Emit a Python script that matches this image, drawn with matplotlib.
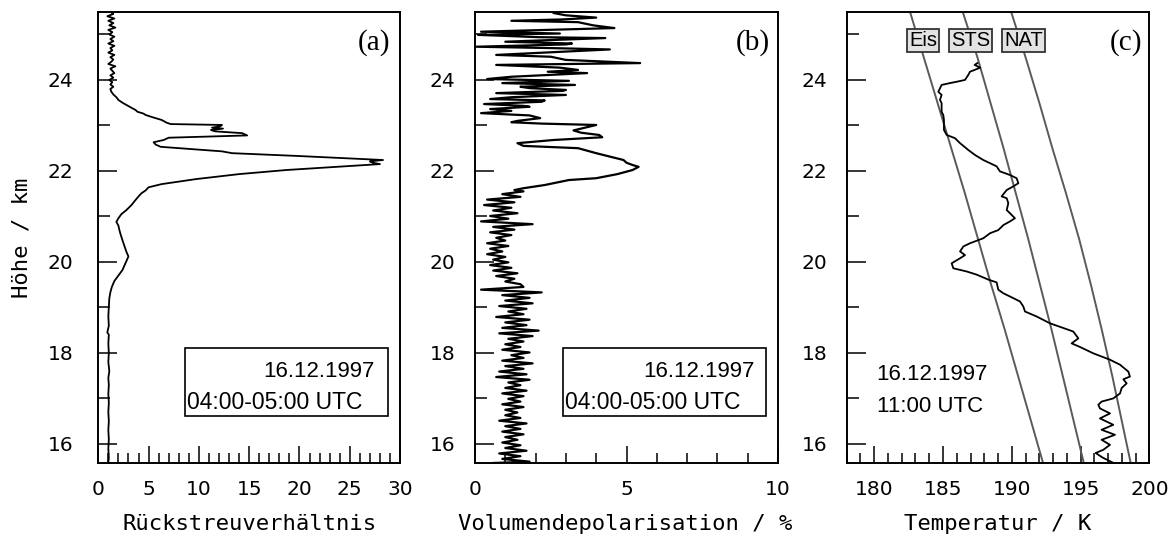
import matplotlib.pyplot as plt
from matplotlib.ticker import MultipleLocator
from matplotlib.patches import Rectangle

# (a) Rückstreuverhältnis, 16.12.1997 04:00-05:00 UTC
hoehe_a = [25.50, 25.45, 25.40, 25.35, 25.30, 25.25, 25.20, 25.15, 25.10, 25.05,
           25.00, 24.95, 24.90, 24.85, 24.80, 24.75, 24.70, 24.65, 24.60, 24.55,
           24.50, 24.45, 24.40, 24.35, 24.30, 24.25, 24.20, 24.15, 24.10, 24.05,
           24.00, 23.95, 23.90, 23.85, 23.80, 23.74, 23.68, 23.62, 23.56, 23.50,
           23.45, 23.40, 23.34, 23.30, 23.26, 23.23, 23.18, 23.12, 23.06, 23.03,
           23.01, 22.98, 22.95, 22.93, 22.90, 22.87, 22.83, 22.78, 22.73, 22.68,
           22.63, 22.58, 22.53, 22.43, 22.39, 22.33, 22.24, 22.21, 22.18, 22.15,
           22.02, 21.93, 21.82, 21.71, 21.64, 21.57, 21.51, 21.44, 21.36, 21.25,
           21.14, 21.05, 20.96, 20.88, 20.80, 20.70, 20.62, 20.48, 20.35, 20.22,
           20.12, 20.02, 19.92, 19.82, 19.70, 19.58, 19.45, 19.33, 19.20, 19.02,
           18.80, 18.60, 18.45, 18.40, 18.20, 18.00, 17.80, 17.60, 17.45, 17.30,
           17.10, 16.90, 16.70, 16.50, 16.30, 16.10, 15.90, 15.70, 15.58]
rueck_a = [1.2, 1.5, 0.9, 1.6, 1.0, 1.5, 1.1, 1.7, 1.0, 1.4,
           1.1, 1.6, 1.2, 1.5, 1.0, 1.6, 1.2, 1.4, 1.0, 1.6,
           1.2, 1.5, 1.3, 1.0, 1.7, 1.2, 1.4, 1.6, 1.2, 1.5,
           1.1, 1.4, 1.2, 1.5, 1.2, 1.3, 1.5, 1.8, 2.0, 2.4,
           2.8, 3.2, 3.7, 3.9, 4.5, 4.7, 5.4, 6.3, 6.8, 7.2,
           12.3, 12.1, 11.3, 12.4, 11.2, 11.6, 14.3, 14.8, 7.0, 6.5,
           5.5, 5.7, 6.2, 12.3, 13.3, 19.7, 28.3, 27.0, 27.3, 28.0,
           18.7, 14.0, 9.7, 6.3, 5.0, 4.7, 4.3, 4.0, 3.7, 3.3,
           2.8, 2.3, 2.0, 1.8, 2.0, 2.1, 2.2, 2.4, 2.6, 2.8,
           3.0, 2.8, 2.6, 2.4, 2.0, 1.6, 1.35, 1.2, 1.1, 1.05,
           1.0, 1.05, 0.9, 1.05, 1.0, 1.05, 1.0, 1.1, 1.0, 1.05,
           1.0, 1.05, 1.0, 1.05, 1.0, 1.05, 1.0, 1.05, 1.0]

# (b) Volumendepolarisation in %
hoehe_b = [25.47, 25.42, 25.37, 25.33, 25.30, 25.27, 25.20, 25.14, 25.06, 25.02,
           24.99, 24.94, 24.92, 24.84, 24.80, 24.78, 24.73, 24.70, 24.67, 24.55,
           24.51, 24.44, 24.37, 24.33, 24.27, 24.22, 24.18, 24.15, 24.07, 24.02,
           23.98, 23.93, 23.89, 23.85, 23.82, 23.78, 23.76, 23.71, 23.67, 23.62,
           23.58, 23.55, 23.52, 23.47, 23.43, 23.41, 23.36, 23.32, 23.27, 23.22,
           23.16, 23.10, 23.07,
           23.04, 23.01, 22.89, 22.84, 22.79, 22.74, 22.68, 22.61, 22.55, 22.50,
           22.39, 22.24, 22.18, 22.13, 22.09, 22.02, 21.93, 21.84, 21.80, 21.69,
           21.62, 21.58,
           21.55, 21.49, 21.43, 21.37, 21.31, 21.25, 21.19, 21.13, 21.07, 21.01,
           20.95, 20.89, 20.83, 20.77, 20.71, 20.65, 20.59, 20.53, 20.47, 20.41,
           20.35, 20.29, 20.23, 20.17, 20.11, 20.05, 19.99, 19.93, 19.87, 19.81,
           19.75, 19.69, 19.63, 19.57, 19.51, 19.45, 19.39, 19.33, 19.27, 19.21,
           19.15, 19.09, 19.03, 18.97, 18.91, 18.85, 18.79, 18.73, 18.67, 18.61,
           18.55, 18.49, 18.43, 18.37, 18.31, 18.25, 18.19, 18.13, 18.07, 18.01,
           17.95, 17.89, 17.83, 17.77, 17.71, 17.65, 17.59, 17.53, 17.47, 17.41,
           17.35, 17.29, 17.23, 17.17, 17.11, 17.05, 16.99, 16.93, 16.87, 16.81,
           16.75, 16.69, 16.63, 16.57, 16.51, 16.45, 16.39, 16.33, 16.27, 16.21,
           16.15, 16.09, 16.03, 15.97, 15.91, 15.85, 15.79, 15.73, 15.67, 15.61,
           15.58]
depol_b = [2.6, 3.0, 4.0, 2.9, 1.2, 3.4, 3.9, 4.6, 0.2, 2.8,
           0.1, 2.1, 4.3, 1.0, 3.2, 3.0, 0.05, 2.5, 4.45, 0.7,
           2.5, 3.0, 5.45, 0.7, 2.8, 3.4, 2.4, 3.7, 1.2, 0.4,
           3.1, 0.9, 3.3, 1.5, 1.8, 3.0, 2.9, 0.7, 3.0, 1.2,
           0.5, 2.3, 2.2, 0.3, 1.6, 1.8, 0.5, 1.2, 0.2, 1.8,
           2.15, 1.4, 1.2,
           2.2, 4.0, 3.25, 3.5, 4.1, 4.2, 2.6, 1.4, 1.6, 3.4,
           4.0, 4.9, 5.0, 5.2, 5.4, 5.2, 4.7, 4.0, 3.1, 2.3,
           1.6, 1.3,
           1.6, 0.9, 1.5, 0.4, 1.3, 0.3, 1.2, 0.6, 1.4, 0.5,
           1.1, 0.2, 1.9, 0.6, 1.3, 0.5, 1.2, 0.7, 1.0, 0.4,
           1.1, 0.5, 0.9, 0.4, 1.0, 0.6, 1.1, 0.5, 1.2, 0.6,
           1.4, 0.7, 1.3, 1.0, 1.5, 1.6, 0.2, 2.2, 0.9, 1.8,
           1.0, 1.9, 0.8, 1.7, 1.1, 1.6, 0.7, 1.8, 1.0, 1.7,
           0.9, 2.1, 0.8, 1.9, 1.1, 1.6, 1.0, 1.5, 0.9, 1.8,
           1.2, 1.6, 0.9, 1.9, 1.0, 1.6, 0.8, 1.7, 0.7, 1.8,
           1.1, 1.5, 1.0, 1.7, 0.9, 1.6, 1.1, 1.5, 0.9, 1.6,
           1.0, 1.4, 1.0, 1.5, 0.8, 1.7, 1.0, 1.5, 0.9, 1.6,
           1.0, 1.4, 0.9, 1.5, 1.0, 1.7, 0.8, 1.5, 0.9, 1.8,
           0.6]

# (c) Temperatur in K, Radiosonde 16.12.1997 11:00 UTC
hoehe_c = [24.37, 24.33, 24.27, 24.22, 24.18, 24.11, 24.00, 23.96, 23.93, 23.89,
           23.74, 23.67, 23.56, 23.49, 23.30, 23.23, 23.12, 22.90, 22.79, 22.72,
           22.61, 22.46, 22.35, 22.24, 22.17, 22.10, 21.99, 21.91, 21.84, 21.73,
           21.66, 21.58, 21.44, 21.40, 21.29, 21.14, 21.07, 20.96, 20.89, 20.81,
           20.70, 20.63, 20.52, 20.41, 20.34, 20.23, 20.15, 20.08, 19.97, 19.86,
           19.79, 19.72, 19.61, 19.55, 19.39, 19.31, 19.24, 19.13, 19.02, 18.91,
           18.80, 18.65, 18.56, 18.47, 18.32, 18.21, 18.13, 17.99, 17.85, 17.74,
           17.59, 17.48, 17.42, 17.33, 17.23, 17.11, 17.00, 16.93, 16.86, 16.78,
           16.67, 16.56, 16.42, 16.31, 16.20, 16.09, 15.98, 15.87, 15.80, 15.70,
           15.58]
temp_c = [187.5, 187.3, 187.7, 187.3, 186.96, 186.84, 186.6, 186.0, 185.5, 184.9,
          184.66, 184.9, 184.78, 184.9, 184.9, 185.02, 185.07, 185.07, 185.27, 185.87,
          186.24, 186.84, 187.33, 187.93, 188.42, 188.9, 189.14, 189.87, 190.35, 190.48,
          190.11, 189.63, 189.26, 189.63, 189.75, 189.63, 189.87, 190.23, 189.87, 189.39,
          189.02, 188.42, 187.93, 186.96, 186.48, 186.24, 186.6, 186.24, 185.63, 185.75,
          186.72, 187.45, 188.3, 188.9, 189.02, 189.39, 189.87, 190.6, 190.84, 190.96,
          191.81, 192.78, 193.63, 194.47, 194.84, 194.35, 194.96, 195.93, 197.14, 197.87,
          198.47, 198.59, 198.11, 198.35, 197.99, 197.87, 197.38, 196.53, 196.29, 196.41,
          197.14, 196.41, 197.38, 196.53, 197.5, 196.53, 197.14, 196.65, 196.1, 196.6,
          197.4]

# Existenztemperaturen Eis / STS / NAT
hoehe_schwelle = [25.5, 24.5, 23.5, 22.5, 21.5, 20.5, 19.5, 18.5, 17.5, 16.5, 15.5]
t_eis = [182.6, 183.6, 184.6, 185.6, 186.6, 187.55, 188.5, 189.5, 190.45, 191.4, 192.35]
t_sts = [186.43, 187.5, 188.45, 189.4, 190.3, 191.2, 192.05, 192.9, 193.7, 194.5, 195.3]
t_nat = [189.95, 191.0, 192.0, 192.95, 193.95, 194.9, 195.75, 196.55, 197.3, 198.0, 198.7]
schwellen_namen = ['Eis', 'STS', 'NAT']

plt.rcParams['font.family'] = 'DejaVu Sans'
plt.rcParams['font.size'] = 14.5

MONO = 'DejaVu Sans Mono'
SANS = 'Liberation Sans'
SERIF = 'Liberation Serif'


def rahmen(ax, pad_y):
    """Gemeinsames Aussehen der drei Profile."""
    ax.set_ylim(15.58, 25.5)
    ax.yaxis.set_major_locator(MultipleLocator(2))
    ax.yaxis.set_minor_locator(MultipleLocator(1))
    ax.xaxis.set_major_locator(MultipleLocator(5))
    ax.xaxis.set_minor_locator(MultipleLocator(1))
    ax.tick_params(which='both', direction='in', width=1.1, top=False, right=False)
    ax.tick_params(axis='y', which='major', length=13.7, pad=pad_y)
    ax.tick_params(axis='y', which='minor', length=8.6)
    ax.tick_params(axis='x', which='major', length=12.2, pad=12)
    ax.tick_params(axis='x', which='minor', length=7.2)
    for s in ax.spines.values():
        s.set_linewidth(1.4)


def legende(ax, x0, x1, rechts, links):
    """Kasten mit Datum und Messzeit."""
    ax.add_patch(Rectangle((x0, 0.104), x1 - x0, 0.150, transform=ax.transAxes,
                           fc='white', ec='black', lw=1.2, zorder=3))
    ax.text(rechts, 0.203, '16.12.1997', transform=ax.transAxes, ha='right',
            va='center', family=SANS, fontsize=16, zorder=4)
    ax.text(links, 0.133, '04:00-05:00 UTC', transform=ax.transAxes, ha='left',
            va='center', family=SANS, fontsize=16.5, zorder=4)


fig = plt.figure(figsize=(11.74, 5.46), dpi=100)
ax_a = fig.add_axes([0.0837, 0.152, 0.2571, 0.8266])
ax_b = fig.add_axes([0.4046, 0.152, 0.2581, 0.8266])
ax_c = fig.add_axes([0.7212, 0.152, 0.2578, 0.8266])

# Panel (a)
ax_a.plot(rueck_a, hoehe_a, color='black', lw=1.3)
ax_a.set_xlim(0, 30)
rahmen(ax_a, 18)
ax_a.set_ylabel('Höhe / km', family=MONO, fontsize=16)
ax_a.yaxis.set_label_coords(-0.22, 0.5)
ax_a.set_xlabel('Rückstreuverhältnis', family=MONO, fontsize=16)
ax_a.xaxis.set_label_coords(0.5, -0.113)
ax_a.text(0.967, 0.931, '(a)', transform=ax_a.transAxes, ha='right', va='center',
          family=SERIF, fontsize=21)
legende(ax_a, 0.287, 0.959, 0.917, 0.295)

# Panel (b)
ax_b.plot(depol_b, hoehe_b, color='black', lw=1.6)
ax_b.set_xlim(0, 10)
rahmen(ax_b, 14)
ax_b.set_xlabel('Volumendepolarisation / %', family=MONO, fontsize=16)
ax_b.xaxis.set_label_coords(0.495, -0.113)
ax_b.text(0.974, 0.931, '(b)', transform=ax_b.transAxes, ha='right', va='center',
          family=SERIF, fontsize=21)
legende(ax_b, 0.291, 0.960, 0.924, 0.297)

# Panel (c)
for t_linie in (t_eis, t_sts, t_nat):
    ax_c.plot(t_linie, hoehe_schwelle, color='#5a5a5a', lw=1.4)
ax_c.plot(temp_c, hoehe_c, color='black', lw=1.3)
ax_c.set_xlim(178, 200)
rahmen(ax_c, 14)
ax_c.set_xlabel('Temperatur / K', family=MONO, fontsize=16)
ax_c.xaxis.set_label_coords(0.5, -0.113)
ax_c.text(0.975, 0.931, '(c)', transform=ax_c.transAxes, ha='right', va='center',
          family=SERIF, fontsize=21)
for name, t_pos in zip(schwellen_namen, (183.57, 186.99, 190.88)):
    ax_c.text(t_pos, 24.86, name, ha='center', va='center', family=SANS, fontsize=14.5,
              bbox=dict(boxstyle='square,pad=0.1', fc='#e3e3e3', ec='#333333', lw=1.3))
ax_c.text(0.099, 0.195, '16.12.1997', transform=ax_c.transAxes, ha='left', va='center',
          family=SANS, fontsize=16)
ax_c.text(0.099, 0.125, '11:00 UTC', transform=ax_c.transAxes, ha='left', va='center',
          family=SANS, fontsize=16)

fig.savefig('out.png', dpi=100)
